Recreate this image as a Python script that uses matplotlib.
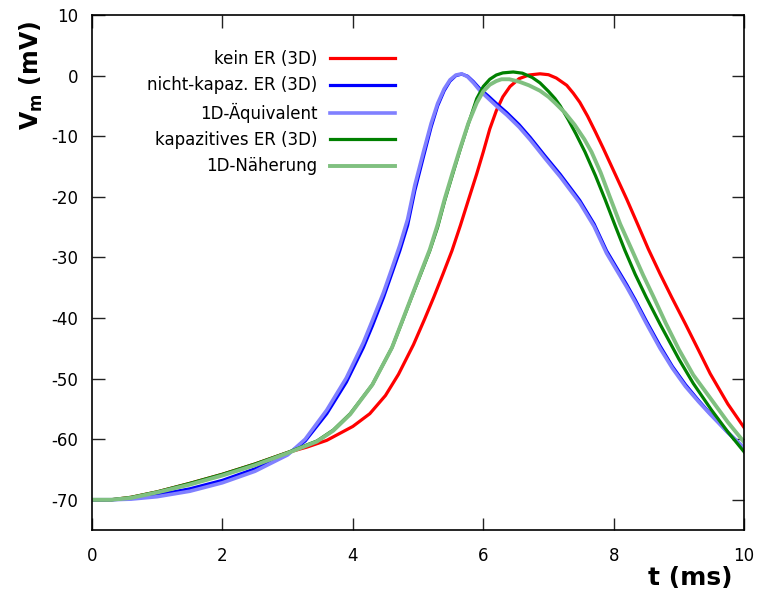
import matplotlib
matplotlib.use("Agg")
import matplotlib.pyplot as plt

plt.rcParams['font.family'] = ['DejaVu Sans']
plt.rcParams['mathtext.fontset'] = 'dejavusans'
plt.rcParams['axes.unicode_minus'] = False

# kein ER (3D)
t_red = [0, 0.3, 0.6, 1.0, 1.5, 2.0, 2.5, 3.0, 3.3, 3.6, 4.0, 4.26, 4.5, 4.7, 4.93,
         5.1, 5.24, 5.38, 5.52, 5.65, 5.77, 5.9, 6.0, 6.1, 6.2, 6.3, 6.41, 6.55, 6.7,
         6.87, 7.0, 7.12, 7.28, 7.38, 7.48, 7.6, 7.72, 7.84, 8.02, 8.2, 8.37, 8.53,
         8.71, 8.89, 9.1, 9.3, 9.48, 9.75, 10.0]
v_red = [-70, -70, -69.6, -68.7, -67.3, -65.8, -64.1, -62.2, -61.3, -60.2, -57.9, -55.8,
         -52.8, -49.3, -44.4, -40.2, -36.6, -32.8, -28.9, -24.7, -20.6, -16.2, -12.6,
         -8.8, -5.8, -3.5, -1.8, -0.5, 0.1, 0.3, 0.15, -0.4, -1.6, -2.9, -4.4, -6.7,
         -9.3, -12.0, -16.2, -20.4, -24.6, -28.6, -32.7, -36.6, -41.0, -45.3, -49.2,
         -54.2, -58.1]

# nicht-kapaz. ER (3D) and 1D-Äquivalent
t_blue = [0, 0.3, 0.6, 1.0, 1.5, 2.0, 2.5, 3.0, 3.27, 3.6, 3.9, 4.16, 4.3, 4.47, 4.6,
          4.72, 4.84, 4.95, 5.08, 5.2, 5.3, 5.4, 5.49, 5.58, 5.67, 5.76, 5.85, 5.95,
          6.08, 6.21, 6.36, 6.55, 6.72, 6.95, 7.18, 7.48, 7.7, 7.89, 8.05, 8.2, 8.33,
          8.5, 8.71, 8.9, 9.1, 9.3, 9.48, 9.75, 10.0]
v_blue = [-70, -70, -69.8, -69.2, -68.2, -66.8, -64.9, -62.5, -60.3, -55.8, -50.6, -44.9,
          -41.3, -36.6, -32.6, -28.9, -24.7, -19.0, -13.5, -8.5, -5.0, -2.5, -0.9, 0.0,
          0.25, -0.1, -1.0, -2.2, -3.4, -4.7, -6.1, -8.1, -10.2, -13.3, -16.3, -20.6,
          -24.5, -28.9, -31.8, -34.5, -37.0, -40.5, -44.6, -48.0, -51.0, -53.6, -55.8,
          -58.9, -61.6]
v_lblue = [-70, -70, -69.9, -69.5, -68.6, -67.2, -65.3, -62.6, -60.0, -55.2, -49.9, -44.1,
           -40.4, -35.8, -31.8, -28.0, -23.7, -18.1, -12.7, -7.9, -4.6, -2.2, -0.7, 0.1,
           0.3, -0.2, -1.2, -2.5, -3.8, -5.1, -6.5, -8.5, -10.6, -13.7, -16.7, -21.0,
           -24.9, -29.3, -32.2, -34.9, -37.4, -40.9, -45.0, -48.3, -51.3, -53.8, -55.9,
           -58.9, -61.4]

# kapazitives ER (3D)
t_green = [0, 0.3, 0.6, 1.0, 1.5, 2.0, 2.5, 3.0, 3.45, 3.7, 3.96, 4.3, 4.6, 4.75, 4.9,
           5.05, 5.18, 5.3, 5.41, 5.53, 5.64, 5.77, 5.9, 6.0, 6.1, 6.2, 6.3, 6.46, 6.6,
           6.75, 6.87, 7.0, 7.1, 7.18, 7.3, 7.42, 7.56, 7.72, 7.87, 8.02, 8.17, 8.33,
           8.5, 8.71, 9.0, 9.22, 9.5, 9.75, 10.0]
v_green = [-70, -70, -69.6, -68.7, -67.3, -65.8, -64.1, -62.2, -60.3, -58.5, -55.8, -51.0,
           -44.9, -40.8, -36.6, -32.5, -28.9, -25.0, -20.6, -16.3, -12.4, -8.0, -3.8,
           -1.8, -0.6, 0.1, 0.45, 0.6, 0.4, -0.3, -1.2, -2.6, -3.8, -5.0, -7.2, -9.6,
           -12.6, -16.5, -20.5, -24.7, -28.8, -32.8, -36.6, -41.0, -46.8, -50.8, -55.2,
           -58.8, -62.1]

# 1D-Näherung
t_lgreen = [0, 0.3, 0.6, 1.0, 1.5, 2.0, 2.5, 3.0, 3.45, 3.7, 3.96, 4.3, 4.6, 4.75, 4.9,
            5.05, 5.18, 5.3, 5.41, 5.53, 5.64, 5.77, 5.9, 6.0, 6.1, 6.2, 6.28, 6.4, 6.55,
            6.7, 6.87, 7.0, 7.1, 7.25, 7.4, 7.55, 7.66, 7.8, 7.94, 8.1, 8.28, 8.45, 8.61,
            8.8, 9.0, 9.22, 9.5, 9.75, 10.0]
v_lgreen = [-70, -70, -69.7, -68.8, -67.5, -66.0, -64.3, -62.3, -60.4, -58.6, -55.9, -51.0,
            -44.9, -40.7, -36.5, -32.3, -28.7, -24.6, -20.3, -16.0, -12.2, -7.9, -4.5,
            -2.6, -1.5, -0.9, -0.6, -0.6, -1.0, -1.6, -2.5, -3.5, -4.5, -6.1, -8.1,
            -10.5, -12.6, -16.0, -20.0, -24.5, -28.8, -32.9, -36.5, -40.9, -45.2, -49.4,
            -53.5, -57.2, -60.5]

labels = ['kein ER (3D)', 'nicht-kapaz. ER (3D)', '1D-Äquivalent',
          'kapazitives ER (3D)', '1D-Näherung']

fig = plt.figure(figsize=(7.57, 5.94), dpi=100)
ax = fig.add_axes([0.1215, 0.1077, 0.8615, 0.867])

ax.plot(t_red, v_red, color='#ff0000', lw=2.3, label=labels[0])
ax.plot(t_blue, v_blue, color='#0000ff', lw=2.3, label=labels[1])
ax.plot(t_blue, v_lblue, color='#8080ff', lw=2.6, label=labels[2])
ax.plot(t_green, v_green, color='#008000', lw=2.3, label=labels[3])
ax.plot(t_lgreen, v_lgreen, color='#80c080', lw=2.8, label=labels[4])

ax.set_xlim(0, 10)
ax.set_ylim(-75, 10)
ax.set_xticks([0, 2, 4, 6, 8, 10])
ax.set_yticks([-70, -60, -50, -40, -30, -20, -10, 0, 10])
ax.tick_params(direction='in', length=9, width=1, top=True, right=True,
               labelsize=12, color='#222222')
ax.tick_params(axis='x', pad=12)
ax.tick_params(axis='y', pad=10)
for s in ax.spines.values():
    s.set_linewidth(1.2)

leg = ax.legend(loc='upper right', bbox_to_anchor=(0.475, 0.945), frameon=False,
                markerfirst=False, fontsize=12, handlelength=3.9,
                handletextpad=0.75, labelspacing=0.5, borderaxespad=0.0)
for txt in leg.get_texts():
    txt.set_ha('right')

fig.text(0.042, 0.873, r'$\mathbf{V_m}$ (mV)', rotation=90, fontsize=17,
         fontweight='bold', ha='center', va='center')
fig.text(0.968, 0.027, 't (ms)', fontsize=18, fontweight='bold', ha='right',
         va='center')

fig.savefig('out.png', dpi=100)
